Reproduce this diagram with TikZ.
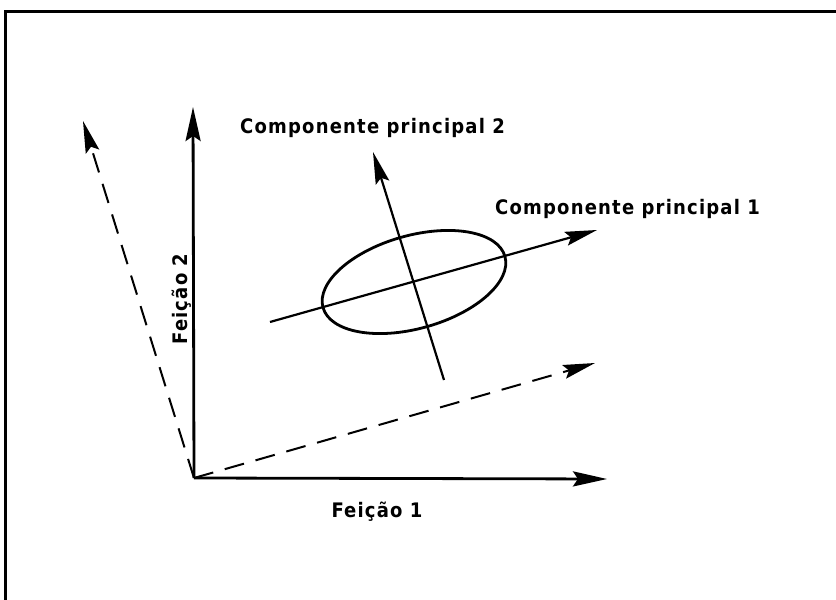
\documentclass[tikz,border=0pt]{standalone}
\usepackage{fontspec}
\newfontfamily\lettering[LetterSpace=6]{DejaVu Sans Condensed}
\usetikzlibrary{arrows.meta,positioning}
\tikzset{ax/.style={line width=2.8pt,-{Stealth[length=34pt,width=15pt,inset=5pt]}},
 dsh/.style={line width=2pt,dash pattern=on 20pt off 12pt,-{Stealth[length=32pt,width=14pt,inset=5pt]}},
 pc/.style={line width=2.2pt,-{Stealth[length=32pt,width=14pt,inset=5pt]}},
 frm/.style={line width=3pt},
 lbl/.style={font=\lettering\bfseries\fontsize{20}{24}\selectfont,inner sep=0pt}}

\begin{document}
\begin{tikzpicture}[x=1pt,y=1pt]
\useasboundingbox (0,0) rectangle (836,600);
\draw[frm] (5,0) |- (836,588);
\coordinate (o) at (194,122);\coordinate (f1) at (607,121);\coordinate (f2) at (193,493);
\coordinate (dl) at (83,479);\coordinate (dr) at (595,237);
\coordinate (c) at (414,318);
\coordinate (p1a) at (270,278);\coordinate (p1b) at (597,370);
\coordinate (p2a) at (444,220);\coordinate (p2b) at (373,448);
\draw[ax](o)--(f1);\draw[ax](o)--(f2);
\draw[dsh](o)--(dl);\draw[dsh](o)--(dr);
\draw[line width=2.8pt,rotate around={15.7:(c)}](c) ellipse[x radius=94.5pt,y radius=46.5pt];
\draw[pc](p1a)--(p1b);\draw[pc](p2a)--(p2b);
\node[lbl,anchor=base](lf1) at (377,82){Feição 1};
\node[lbl,anchor=base,rotate=90](lf2) at (187,301){Feição 2};
\node[lbl,anchor=base west](lp1) at (495,385){Componente principal 1};
\node[lbl,anchor=base west](lp2) at (240,466){Componente principal 2};
\end{tikzpicture}
\end{document}
